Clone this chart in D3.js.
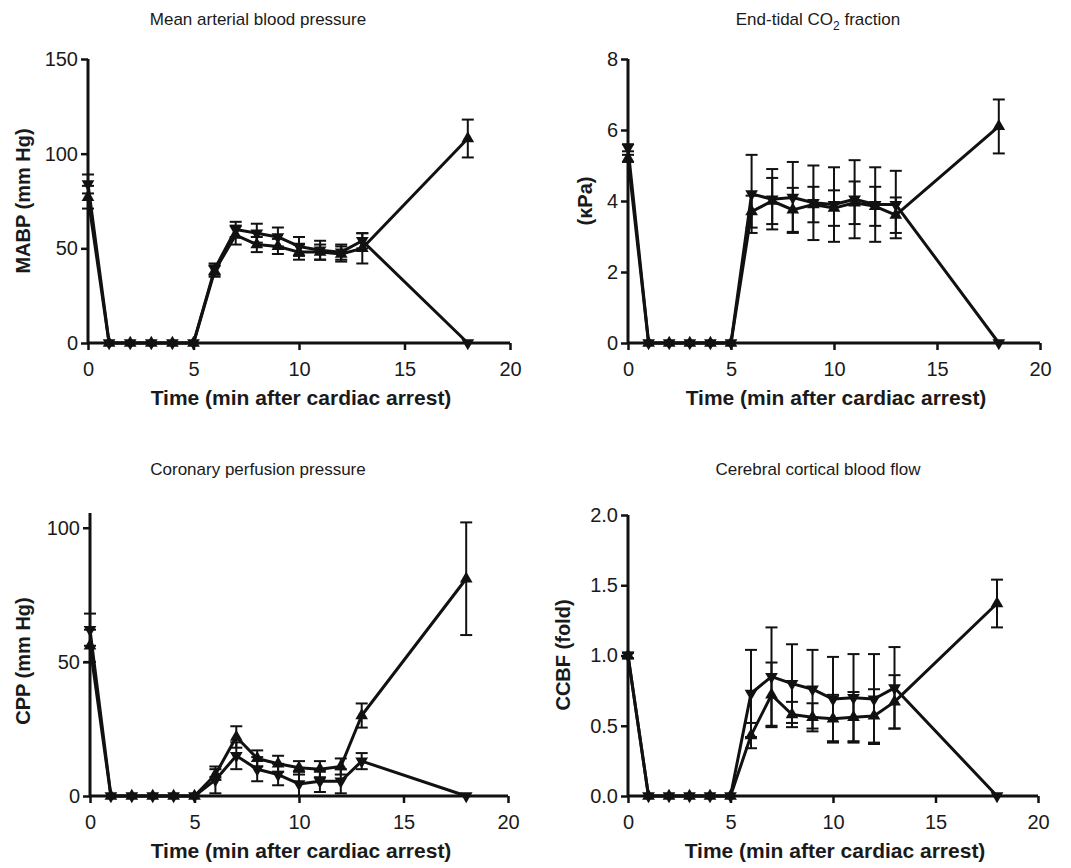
<!DOCTYPE html>
<html lang="en">
<head>
<meta charset="UTF-8">
<title>Cardiac arrest time courses</title>
<script src="https://d3js.org/d3.v7.min.js"></script>
<style>
  body { margin: 0; background: #fff; }
  text { font-family: "Liberation Sans", Arial, sans-serif; fill: #1a1a1a; }
</style>
</head>
<body>
<script>
// time points (min after cardiac arrest)
const times = [0, 1, 2, 3, 4, 5, 6, 7, 8, 9, 10, 11, 12, 13, 18];

// Mean arterial blood pressure (mm Hg)
const mabpUp       = [77, 0, 0, 0, 0, 0, 38, 57, 52, 51, 48, 48, 47, 50, 108];
const mabpUpErr    = [6, 0, 0, 0, 0, 0, 3, 5, 4, 4, 4, 4, 4, 8, 10];
const mabpDown     = [84, 0, 0, 0, 0, 0, 39, 60, 58, 56, 51, 49, 48, 54, 0];
const mabpDownErr  = [5, 0, 0, 0, 0, 0, 3, 4, 5, 5, 5, 5, 4, 4, 0];

// End-tidal CO2 (kPa)
const co2Up        = [5.2, 0, 0, 0, 0, 0, 3.7, 4.0, 3.75, 3.9, 3.8, 3.95, 3.85, 3.6, 6.1];
const co2UpErr     = [0.1, 0, 0, 0, 0, 0, 0.45, 0.65, 0.62, 0.5, 0.5, 0.6, 0.55, 0.5, 0.76];
const co2Down      = [5.5, 0, 0, 0, 0, 0, 4.2, 4.05, 4.1, 3.95, 3.9, 4.05, 3.9, 3.9, 0];
const co2DownErr   = [0.1, 0, 0, 0, 0, 0, 1.1, 0.85, 1.0, 1.05, 1.05, 1.1, 1.05, 0.95, 0];

// Coronary perfusion pressure (mm Hg)
const cppUp        = [56, 0, 0, 0, 0, 0, 8, 22, 14, 12, 10.5, 10, 11, 30, 81];
const cppUpErr     = [6, 0, 0, 0, 0, 0, 2, 4, 3, 3, 2.5, 3, 3, 4.5, 21];
const cppDown      = [62, 0, 0, 0, 0, 0, 6, 15, 10, 8, 4.5, 5.5, 5.5, 13, 0];
const cppDownErr   = [6, 0, 0, 0, 0, 0, 5, 5, 4.5, 4, 4.5, 4, 4.5, 3, 0];

// Cerebral cortical blood flow (fold)
const ccbfUp       = [1.0, 0, 0, 0, 0, 0, 0.43, 0.72, 0.58, 0.56, 0.55, 0.56, 0.57, 0.67, 1.37];
const ccbfUpErr    = [0.02, 0, 0, 0, 0, 0, 0.09, 0.23, 0.09, 0.1, 0.17, 0.18, 0.19, 0.19, 0.17];
const ccbfDown     = [1.0, 0, 0, 0, 0, 0, 0.73, 0.85, 0.8, 0.76, 0.69, 0.7, 0.69, 0.77, 0];
const ccbfDownErr  = [0.02, 0, 0, 0, 0, 0, 0.31, 0.35, 0.28, 0.28, 0.3, 0.31, 0.32, 0.29, 0];

const xTicks = [0, 5, 10, 15, 20];

const panels = [
  { title: "Mean arterial blood pressure", ylabel: "MABP (mm Hg)",
    x0: 88, x1: 510, y0: 343, y1: 59, ymax: 150, yTicks: [0, 50, 100, 150], fmt: d3.format("d"),
    up: mabpUp, upErr: mabpUpErr, down: mabpDown, downErr: mabpDownErr,
    titleX: 258, titleY: 25, ylabX: 23, ylabY: 201 },
  { title: "End-tidal CO", sub: "2", titleTail: " fraction", ylabel: "(\u03baPa)",
    x0: 628, x1: 1040, y0: 343, y1: 59, ymax: 8, yTicks: [0, 2, 4, 6, 8], fmt: d3.format("d"),
    up: co2Up, upErr: co2UpErr, down: co2Down, downErr: co2DownErr,
    titleX: 818, titleY: 25, ylabX: 585, ylabY: 201 },
  { title: "Coronary perfusion pressure", ylabel: "CPP (mm Hg)",
    x0: 90, x1: 508, y0: 796, y1: 513, ymax: 105.5, yTicks: [0, 50, 100], fmt: d3.format("d"),
    up: cppUp, upErr: cppUpErr, down: cppDown, downErr: cppDownErr,
    titleX: 258, titleY: 475, ylabX: 23, ylabY: 661 },
  { title: "Cerebral cortical blood flow", ylabel: "CCBF (fold)",
    x0: 628, x1: 1038, y0: 796, y1: 515, ymax: 2, yTicks: [0, 0.5, 1, 1.5, 2], fmt: d3.format(".1f"),
    up: ccbfUp, upErr: ccbfUpErr, down: ccbfDown, downErr: ccbfDownErr,
    titleX: 818, titleY: 475, ylabX: 563, ylabY: 655 }
];

const svg = d3.select("body").append("svg")
  .attr("width", 1071)
  .attr("height", 868);

svg.append("rect").attr("width", 1071).attr("height", 868).attr("fill", "#fff");

const triUp = d3.symbol().type(d3.symbolTriangle).size(70);

panels.forEach(p => {
  const g = svg.append("g");
  const x = d3.scaleLinear().domain([0, 20]).range([p.x0, p.x1]);
  const y = d3.scaleLinear().domain([0, p.ymax]).range([p.y0, p.y1]);

  // panel title
  const t = g.append("text")
    .attr("x", p.titleX).attr("y", p.titleY)
    .attr("text-anchor", "middle")
    .style("font-size", "17px")
    .text(p.title);
  if (p.sub) {
    t.append("tspan").attr("dy", 5).style("font-size", "12px").text(p.sub);
    t.append("tspan").attr("dy", -5).text(p.titleTail);
  }

  // axes
  const xAxis = d3.axisBottom(x).tickValues(xTicks).tickSize(7).tickPadding(12);
  const yAxis = d3.axisLeft(y).tickValues(p.yTicks).tickSize(7).tickPadding(3).tickFormat(p.fmt);

  const gx = g.append("g").attr("transform", "translate(0," + p.y0 + ")").call(xAxis);
  const gy = g.append("g").attr("transform", "translate(" + p.x0 + ",0)").call(yAxis);
  [gx, gy].forEach(a => {
    a.select(".domain").attr("stroke", "#111").attr("stroke-width", 3).attr("d",
      a === gx ? "M" + p.x0 + ",0H" + p.x1 : "M0," + p.y0 + "V" + p.y1);
    a.selectAll(".tick line").attr("stroke", "#111").attr("stroke-width", 2.5);
    a.selectAll(".tick text").style("font-size", "20px").attr("fill", "#1a1a1a")
      .style("font-family", "'Liberation Sans', Arial, sans-serif");
  });

  // axis titles
  g.append("text")
    .attr("x", (p.x0 + p.x1) / 2 + 2).attr("y", p.y0 + 62)
    .attr("text-anchor", "middle")
    .style("font-size", "21px").style("font-weight", "bold")
    .text("Time (min after cardiac arrest)");
  g.append("text")
    .attr("transform", "translate(" + p.ylabX + "," + p.ylabY + ") rotate(-90)")
    .attr("text-anchor", "middle")
    .attr("dy", "0.35em")
    .style("font-size", "20px").style("font-weight", "bold")
    .text(p.ylabel);

  const series = [
    { vals: p.up, err: p.upErr, rot: 0 },
    { vals: p.down, err: p.downErr, rot: 180 }
  ];

  series.forEach(s => {
    const pts = times.map((tm, i) => ({ t: tm, v: s.vals[i], e: s.err[i] }));

    // error bars
    const eb = g.append("g").attr("stroke", "#111").attr("stroke-width", 2);
    pts.filter(d => d.e > 0).forEach(d => {
      const cx = x(d.t);
      eb.append("line").attr("x1", cx).attr("x2", cx)
        .attr("y1", y(d.v - d.e)).attr("y2", y(d.v + d.e));
      [d.v - d.e, d.v + d.e].forEach(v => {
        eb.append("line").attr("x1", cx - 6).attr("x2", cx + 6)
          .attr("y1", y(v)).attr("y2", y(v));
      });
    });

    // line
    g.append("path").datum(pts)
      .attr("fill", "none").attr("stroke", "#111").attr("stroke-width", 3)
      .attr("stroke-linejoin", "round")
      .attr("d", d3.line().x(d => x(d.t)).y(d => y(d.v)));

    // markers
    g.selectAll(null).data(pts).enter().append("path")
      .attr("d", triUp)
      .attr("fill", "#111")
      .attr("transform", d => "translate(" + x(d.t) + "," + y(d.v) + ") rotate(" + s.rot + ")");
  });
});
</script>
</body>
</html>
